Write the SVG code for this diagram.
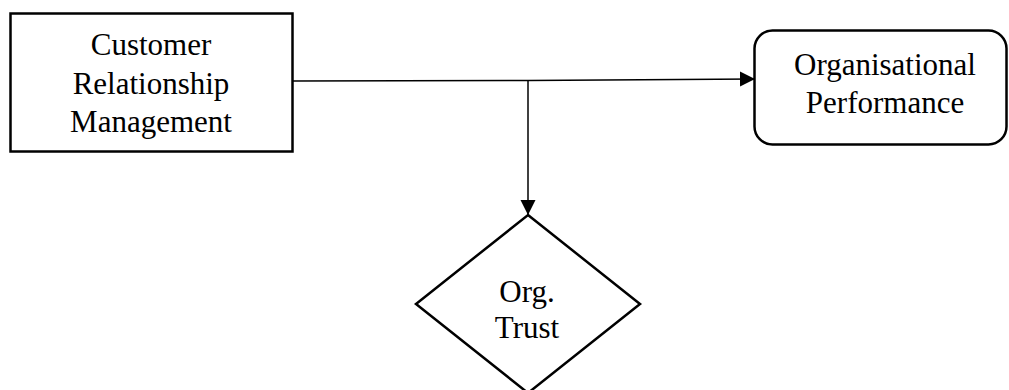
<svg xmlns="http://www.w3.org/2000/svg" width="1009" height="390" viewBox="0 0 1009 390">
<style>
.shape{fill:#fff;stroke:#000;stroke-width:2.5}
.lbl{font-family:"Liberation Serif","Times New Roman",serif;font-size:31px;fill:#000;text-anchor:middle}
.conn{stroke:#000;stroke-width:1.5;fill:none}
</style>
<defs>
<marker id="arr" markerWidth="16" markerHeight="16" refX="15" refY="8" orient="auto" markerUnits="userSpaceOnUse">
<path d="M0,0.5 L15,8 L0,15.5 Z" fill="#000"/>
</marker>
</defs>
<g id="crm">
<rect class="shape" x="10.5" y="13.5" width="282" height="138"/>
<text class="lbl" x="151" y="55">Customer</text>
<text class="lbl" x="151" y="94">Relationship</text>
<text class="lbl" x="151" y="132">Management</text>
</g>
<g id="perf">
<rect class="shape" x="754.5" y="30.5" width="252" height="114" rx="18" ry="18"/>
<text class="lbl" x="885" y="75">Organisational</text>
<text class="lbl" x="885" y="113">Performance</text>
</g>
<g id="trust">
<polygon class="shape" points="528,215 640,304 528,393 416,304"/>
<text class="lbl" x="527" y="302">Org.</text>
<text class="lbl" x="527" y="338">Trust</text>
</g>
<g id="connectors">
<path class="conn" d="M293,81 L528,80.5 L755,79" marker-end="url(#arr)"/>
<path class="conn" d="M528,80.5 L528,215" marker-end="url(#arr)"/>
</g>
</svg>
